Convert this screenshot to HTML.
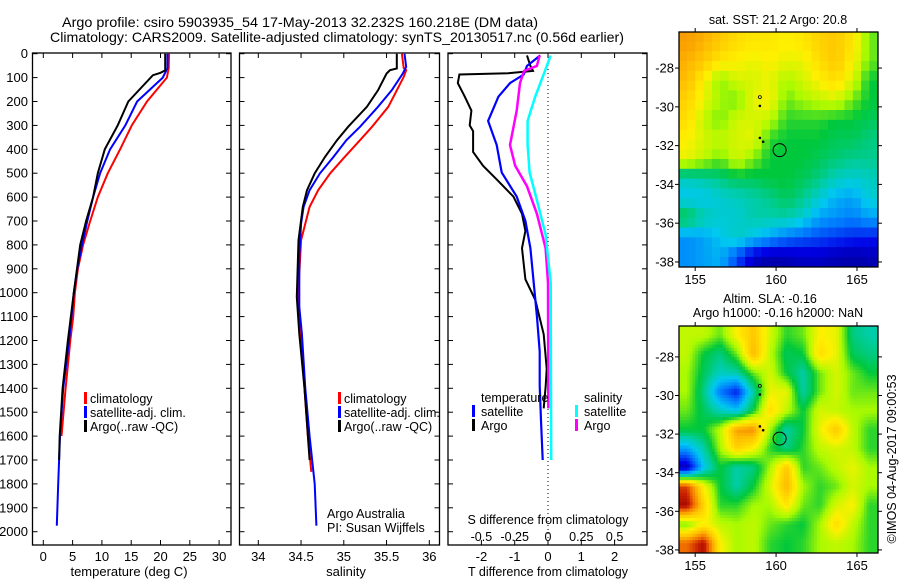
<!DOCTYPE html>
<html><head><meta charset="utf-8">
<style>
html,body{margin:0;padding:0;background:#fff;}
svg{display:block;font-family:"Liberation Sans",Arial,sans-serif;}
</style></head>
<body>
<svg id="fig" width="900" height="580" viewBox="0 0 900 580" xmlns="http://www.w3.org/2000/svg">
<defs>
<clipPath id="clipTop"><rect x="679" y="32" width="199" height="235"/></clipPath>
<clipPath id="clipBot"><rect x="679" y="326" width="199" height="227"/></clipPath>
</defs>
<text x="300" y="27" font-size="14" text-anchor="middle" textLength="476" lengthAdjust="spacingAndGlyphs">Argo profile: csiro 5903935_54 17-May-2013 32.232S 160.218E (DM data)</text>
<text x="337" y="42" font-size="14" text-anchor="middle" textLength="574" lengthAdjust="spacingAndGlyphs">Climatology: CARS2009. Satellite-adjusted climatology: synTS_20130517.nc (0.56d earlier)</text>
<g id="g"></g>
</svg>
<script>
// ---------- data ----------
const depthTicks = [0,100,200,300,400,500,600,700,800,900,1000,1100,1200,1300,1400,1500,1600,1700,1800,1900,2000];
const tempTicks = [0,5,10,15,20,25,30];
const salTicks = [34,34.5,35,35.5,36];
const salTickLabels = ["34","34.5","35","35.5","36"];
const tdiffTicks = [-2,-1,0,1,2];
const sdiffTicks = [-0.5,-0.25,0,0.25,0.5];
const sdiffTickLabels = ["-0.5","-0.25","0","0.25","0.5"];

const tClimDepth = [0,60,100,200,300,400,500,600,700,800,900,1000,1100,1200,1400,1600];
const tClimVal   = [21.45,21.4,21.1,17.7,15.1,13.1,11.0,9.3,8.0,6.8,5.9,5.4,5.1,4.6,3.8,3.1];
const tSatDepth  = [0,60,100,200,300,400,500,600,700,800,900,1000,1200,1400,1600,1800,1975];
const tSatVal    = [21.2,21.2,20.4,16.0,14.0,11.4,9.7,8.5,7.5,6.6,5.8,5.2,4.4,3.4,2.85,2.55,2.3];
const tArgoDepth = [0,70,80,90,200,300,400,500,600,700,800,1000,1200,1400,1600,1700];
const tArgoVal   = [20.8,20.8,20.0,18.7,14.5,12.7,10.5,9.3,8.5,7.3,6.3,5.2,4.2,3.3,2.8,2.7];

const sClimDepth = [0,60,69,97,153,222,306,362,432,501,571,641,711,780,920,1018,1200,1400,1600,1750];
const sClimVal   = [35.68,35.7,35.73,35.70,35.62,35.52,35.33,35.19,35.01,34.84,34.70,34.60,34.55,34.50,34.48,34.47,34.50,34.54,34.58,34.62];
const sSatDepth  = [0,55,83,153,222,306,362,432,501,571,641,711,850,1060,1172,1400,1600,1800,1975];
const sSatVal    = [35.71,35.73,35.69,35.56,35.40,35.19,35.03,34.88,34.72,34.60,34.53,34.50,34.48,34.48,34.51,34.55,34.60,34.66,34.68];
const sArgoDepth = [0,62,69,83,153,222,306,362,432,501,571,641,780,1018,1172,1400,1600,1700];
const sArgoVal   = [35.62,35.62,35.54,35.50,35.40,35.27,35.05,34.92,34.78,34.66,34.57,34.52,34.47,34.45,34.48,34.54,34.58,34.60];

const dtArgoDepth = [7,51,72,82,87,123,180,238,300,324,411,469,526,598,670,742,814,944,1030,1174,1318,1390,1484];
const dtArgoVal   = [-0.63,-0.53,-0.45,-1.2,-2.66,-2.71,-2.5,-2.30,-2.35,-2.25,-2.25,-1.95,-1.54,-1.04,-0.78,-0.68,-0.78,-0.68,-0.38,-0.13,-0.04,-0.07,-0.13];
const dtSatDepth  = [7,51,87,123,180,281,382,497,598,699,814,958,1102,1246,1390,1535,1700];
const dtSatVal    = [-0.23,-0.63,-0.73,-1.14,-1.49,-1.80,-1.54,-1.39,-0.94,-0.68,-0.53,-0.43,-0.33,-0.25,-0.25,-0.21,-0.16];
const dsArgoDepth = [7,51,72,123,238,382,469,555,670,814,958,1484];
const dsArgoVal   = [-0.063,-0.083,-0.18,-0.21,-0.235,-0.285,-0.246,-0.158,-0.083,-0.018,0,0.002];
const dsSatDepth  = [7,87,180,281,382,497,613,757,958,1700];
const dsSatVal    = [0.02,-0.033,-0.096,-0.153,-0.153,-0.138,-0.083,-0.018,0.02,0.024];

const latTicks = [-28,-30,-32,-34,-36,-38];
const lonTicks = [155,160,165];
const sstGrid = [
[.8,.78,.74,.7,.68,.68,.66,.68,.72,.74,.68,.55],
[.78,.74,.68,.66,.64,.66,.64,.64,.7,.74,.66,.55],
[.76,.66,.56,.62,.62,.64,.58,.62,.66,.7,.62,.5],
[.72,.64,.58,.55,.64,.66,.55,.58,.6,.62,.55,.5],
[.7,.6,.55,.62,.62,.6,.52,.52,.52,.5,.5,.48],
[.66,.62,.6,.62,.64,.52,.5,.5,.5,.48,.48,.45],
[.64,.6,.55,.62,.56,.5,.5,.5,.48,.46,.44,.44],
[.4,.42,.45,.48,.48,.5,.5,.48,.45,.4,.38,.4],
[.35,.35,.38,.4,.42,.44,.48,.44,.38,.32,.3,.38],
[.5,.42,.38,.38,.42,.42,.42,.38,.3,.28,.26,.3],
[.28,.3,.35,.4,.35,.3,.25,.22,.2,.18,.16,.15],
[.28,.3,.32,.2,.08,.05,.06,.08,.08,.06,.05,.06]];
const slaGrid = [
[.6,.6,.55,.66,.74,.62,.52,.55,.66,.64,.45,.42],
[.6,.5,.45,.55,.77,.6,.48,.5,.7,.64,.48,.45],
[.58,.48,.4,.42,.55,.62,.5,.42,.55,.62,.55,.5],
[.58,.45,.25,.15,.42,.64,.64,.42,.55,.62,.55,.55],
[.55,.48,.4,.35,.5,.7,.6,.5,.62,.6,.58,.58],
[.5,.5,.6,.8,.82,.58,.42,.5,.64,.74,.6,.52],
[.3,.42,.58,.72,.66,.52,.45,.52,.6,.62,.6,.52],
[.06,.35,.5,.42,.45,.58,.74,.52,.55,.6,.64,.58],
[.9,.66,.5,.42,.5,.62,.77,.58,.52,.55,.62,.58],
[.97,.72,.52,.52,.58,.58,.68,.55,.52,.62,.66,.52],
[.55,.66,.6,.58,.6,.55,.52,.5,.58,.7,.6,.52],
[.86,.96,.66,.58,.6,.52,.5,.52,.58,.6,.58,.52]];
const floatLon = 160.218, floatLat = -32.232;
const trackLon = [159.0,159.0,159.0,159.2];
const trackLat = [-29.5,-29.95,-31.6,-31.8];

// ---------- helpers ----------
const NS="http://www.w3.org/2000/svg";
const G=document.getElementById('g');
function mk(tag,attrs,parent){const e=document.createElementNS(NS,tag);for(const k in attrs)e.setAttribute(k,attrs[k]);(parent||G).appendChild(e);return e;}
const yD = d => 53.7 + d*0.239;
const xT = t => 43.3 + t*5.86;
const xS = s => 258.3 + (s-34)*85.5;
const xDT = t => 548 + t*33.3;
const xDS = s => 548 + s*133.2;

function frame(name,x0,x1,xticks,xf,labels,labelY){
  const r=mk('rect',{x:x0,y:53,width:x1-x0,height:492,fill:'none',stroke:'#000','stroke-width':1.3});
  
  
  depthTicks.forEach(d=>{const y=yD(d);
    mk('line',{x1:x0,x2:x0+5,y1:y,y2:y,stroke:'#000'});
    mk('line',{x1:x1,x2:x1-5,y1:y,y2:y,stroke:'#000'});});
  xticks.forEach((v,i)=>{const x=xf(v);
    mk('line',{x1:x,x2:x,y1:53,y2:58,stroke:'#000'});
    mk('line',{x1:x,x2:x,y1:545,y2:540,stroke:'#000'});
    if(labels){const t=mk('text',{x:x,y:labelY,'font-size':13,'text-anchor':'middle'});t.textContent=labels[i];
      
      }
  });
}
function line(name,depths,vals,xf,color,w){
  const pts=depths.map((d,i)=>xf(vals[i]).toFixed(1)+','+yD(d).toFixed(1)).join(' ');
  const p=mk('polyline',{points:pts,fill:'none',stroke:color,'stroke-width':w||2,'stroke-linejoin':'miter'});
  
  
}
function txt(name,x,y,s,size,anchor){const t=mk('text',{x:x,y:y,'font-size':size||13,'text-anchor':anchor||'start'});t.textContent=s;
  
  
  return t;}
function legMark(name,x,y,color){const r=mk('rect',{x:x,y:y-11,width:3,height:12,fill:color});
  
  }

depthTicks.forEach(d=>{txt('y-tick-label',28,yD(d)+4.5,String(d),13,'end');});

// Panel 1 temperature
frame('temperature-panel',32.5,231,tempTicks,xT,tempTicks.map(String),561);
line('temp-climatology-line',tClimDepth,tClimVal,xT,'#ff0000',2);
line('temp-satellite-line',tSatDepth,tSatVal,xT,'#0000ff',2);
line('temp-argo-line',tArgoDepth,tArgoVal,xT,'#000000',2);
txt('temperature-axis-title',129,576,'temperature (deg C)',13,'middle');
legMark('legend-climatology-mark',84,403,'#ff0000');txt('legend-climatology',90,403,'climatology',12.5);
legMark('legend-satellite-mark',84,417,'#0000ff');txt('legend-satellite',90,417,'satellite-adj. clim.',12.5);
legMark('legend-argo-mark',84,431,'#000000');txt('legend-argo',90,431,'Argo(..raw -QC)',12.5);

// Panel 2 salinity
frame('salinity-panel',239.5,439.5,salTicks,xS,salTickLabels,561);
line('sal-climatology-line',sClimDepth,sClimVal,xS,'#ff0000',2);
line('sal-satellite-line',sSatDepth,sSatVal,xS,'#0000ff',2);
line('sal-argo-line',sArgoDepth,sArgoVal,xS,'#000000',2);
txt('salinity-axis-title',346,576,'salinity',13,'middle');
legMark('legend2-climatology-mark',338,403,'#ff0000');txt('legend2-climatology',344,403,'climatology',12.5);
legMark('legend2-satellite-mark',338,417,'#0000ff');txt('legend2-satellite',344,417,'satellite-adj. clim.',12.5);
legMark('legend2-argo-mark',338,431,'#000000');txt('legend2-argo',344,431,'Argo(..raw -QC)',12.5);
txt('credit-argo-australia',327,518,'Argo Australia',12.5);
txt('credit-pi',327,532,'PI: Susan Wijffels',12.5);

// Panel 3 differences
frame('difference-panel',448,647,tdiffTicks,xDT,tdiffTicks.map(String),561);
mk('line',{x1:xDT(0),x2:xDT(0),y1:53,y2:545,stroke:'#000','stroke-dasharray':'1,3'});
line('dt-argo-line',dtArgoDepth,dtArgoVal,xDT,'#000000',2);
line('dt-satellite-line',dtSatDepth,dtSatVal,xDT,'#0000ff',2.2);
line('ds-argo-line',dsArgoDepth,dsArgoVal,xDS,'#ff00ff',2.5);
line('ds-satellite-line',dsSatDepth,dsSatVal,xDS,'#00ffff',2.5);
sdiffTicks.forEach((v,i)=>txt('sdiff-tick-label',xDS(v),541,sdiffTickLabels[i],12.5,'middle'));
txt('sdiff-axis-title',548,524,'S difference from climatology',12.5,'middle');
txt('tdiff-axis-title',548,576,'T difference from climatology',12.5,'middle');
txt('legend3-temperature-head',481,402,'temperature',12.5);
legMark('legend3-t-satellite-mark',472,416,'#0000ff');txt('legend3-t-satellite',481,416,'satellite',12.5);
legMark('legend3-t-argo-mark',472,430,'#000000');txt('legend3-t-argo',481,430,'Argo',12.5);
txt('legend3-salinity-head',584,402,'salinity',12.5);
legMark('legend3-s-satellite-mark',575,416,'#00ffff');txt('legend3-s-satellite',584,416,'satellite',12.5);
legMark('legend3-s-argo-mark',575,430,'#ff00ff');txt('legend3-s-argo',584,430,'Argo',12.5);

// ---------- maps ----------
const cstops=[[0,[0,0,130]],[0.12,[0,0,230]],[0.25,[0,120,255]],[0.35,[0,200,240]],[0.42,[0,205,170]],[0.5,[0,200,60]],[0.58,[170,250,0]],[0.66,[255,240,0]],[0.76,[255,190,0]],[0.86,[240,110,0]],[0.93,[200,30,0]],[1,[140,0,0]]];
function cmap(v){v=Math.max(0,Math.min(1,v));for(let i=1;i<cstops.length;i++){if(v<=cstops[i][0]){const a=cstops[i-1],b=cstops[i];const f=(v-a[0])/(b[0]-a[0]);return 'rgb('+a[1].map((c,k)=>Math.round(c+(b[1][k]-c)*f)).join(',')+')';}}return 'rgb(140,0,0)';}
const lon0=154.0, lon1=166.3;
const xL = lon => 679 + (lon-lon0)*(199/(lon1-lon0));
function sample(grid,fr,fc){ // bilinear, grid values at cell centres
  const nr=grid.length,nc=grid[0].length;
  let r=Math.max(0,Math.min(nr-1,fr-0.5)), c=Math.max(0,Math.min(nc-1,fc-0.5));
  const r0=Math.floor(r),c0=Math.floor(c),r1=Math.min(nr-1,r0+1),c1=Math.min(nc-1,c0+1);
  const a=r-r0,b=c-c0;
  return grid[r0][c0]*(1-a)*(1-b)+grid[r0][c1]*(1-a)*b+grid[r1][c0]*a*(1-b)+grid[r1][c1]*a*b;
}
function drawMap(name,grid,top,bot,latTop,latBot,clip,sub){
  const yL = lat => top + (latTop-lat)*((bot-top)/(latTop-latBot));
  const nr=grid.length,nc=grid[0].length;
  const dlon=(lon1-lon0)/(nc*sub), dlat=(latTop-latBot)/(nr*sub);
  const g=mk('g',{'clip-path':'url(#'+clip+')'});
  for(let r=0;r<nr*sub;r++)for(let c=0;c<nc*sub;c++){
    const v = sub===1 ? grid[r][c] : sample(grid,(r+0.5)/sub,(c+0.5)/sub);
    const x=xL(lon0+c*dlon), y=yL(latTop-r*dlat);
    const cell=mk('rect',{x:x-0.3,y:y-0.3,width:xL(lon0+(c+1)*dlon)-x+0.6,height:yL(latTop-(r+1)*dlat)-y+0.6,fill:cmap(v)},g);
    
    
  }
  const fr=mk('rect',{x:679,y:top,width:199,height:bot-top,fill:'none',stroke:'#000','stroke-width':1.3});
  
  
  latTicks.forEach(l=>{const y=yL(l);
    mk('line',{x1:679,x2:675,y1:y,y2:y,stroke:'#000'});
    mk('line',{x1:878,x2:882,y1:y,y2:y,stroke:'#000'});
    txt(name+'-lat-label',674,y+4.5,String(l),13,'end');});
  lonTicks.forEach(l=>{const x=xL(l);
    mk('line',{x1:x,x2:x,y1:bot,y2:bot+4,stroke:'#000'});
    mk('line',{x1:x,x2:x,y1:top,y2:top-4,stroke:'#000'});
    txt(name+'-lon-label',x,bot+17,String(l),13,'middle');});
  const c=mk('circle',{cx:xL(floatLon),cy:yL(floatLat),r:6.5,fill:'none',stroke:'#000','stroke-width':1});
  
  
  trackLon.forEach((lo,i)=>{const d=mk('circle',{cx:xL(lo),cy:yL(trackLat[i]),r:i==0?1.5:0.9,fill:i==0?'none':'#000',stroke:'#000','stroke-width':0.8});
    
    });
}
drawMap('sst-map',sstGrid,32,267,-26.14,-38.26,'clipTop',2);
drawMap('sla-map',slaGrid,326,553,-26.4,-38.16,'clipBot',6);
txt('sst-map-title',778,24,'sat. SST: 21.2 Argo: 20.8',12.5,'middle');
txt('sla-map-title',770,303,'Altim. SLA: -0.16',12.5,'middle');
txt('sla-map-subtitle',778,317,'Argo h1000: -0.16 h2000: NaN',12.5,'middle');
const cr=txt('copyright-label',0,0,'©IMOS 04-Aug-2017 09:00:53',12.5,'middle');
cr.setAttribute('transform','translate(896,459) rotate(-90)');
</script>
</body></html>
